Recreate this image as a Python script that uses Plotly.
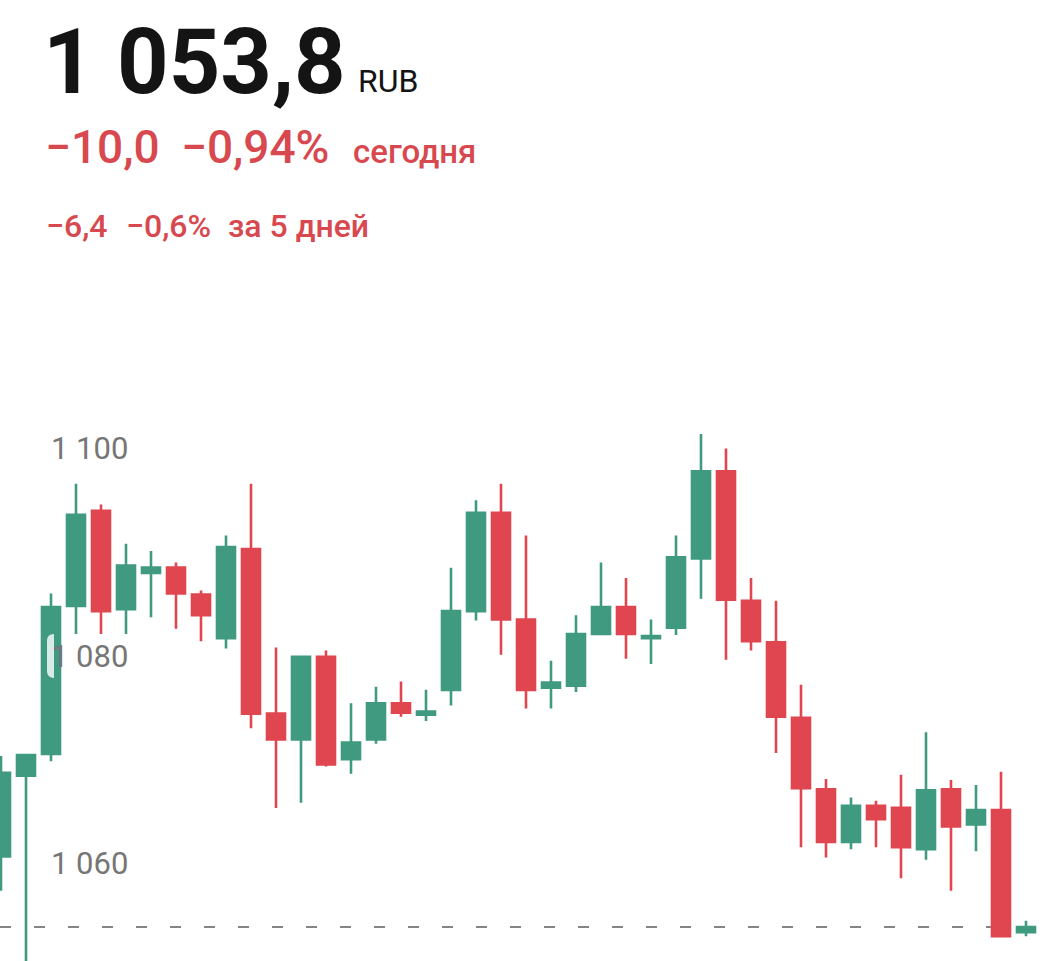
import plotly.graph_objects as go

# ---- data ----
idx = list(range(42))
open_ = [1060.6, 1068.4, 1070.5, 1084.8, 1094.0, 1084.5, 1088.0, 1088.5, 1085.9, 1081.7,
         1090.3, 1074.4, 1071.9, 1079.9, 1070.0, 1071.9, 1075.4, 1074.3, 1076.7, 1084.3,
         1093.8, 1083.5, 1076.9, 1077.1, 1082.1, 1084.7, 1081.7, 1082.7, 1089.4, 1097.8,
         1085.3, 1081.3, 1074.0, 1067.1, 1062.0, 1065.5, 1065.3, 1061.3, 1067.1, 1063.7,
         1065.1, 1053.3]
high = [1070.3, 1070.5, 1086.0, 1096.6, 1094.6, 1090.8, 1090.1, 1089.0, 1086.3, 1091.6,
        1096.6, 1080.8, 1080.0, 1080.5, 1075.4, 1077.0, 1077.5, 1076.7, 1088.5, 1095.0,
        1096.6, 1091.6, 1079.5, 1083.9, 1089.0, 1087.5, 1083.5, 1091.6, 1101.4, 1100.0,
        1087.5, 1085.3, 1077.2, 1068.1, 1066.3, 1066.0, 1068.5, 1072.6, 1068.0, 1067.5,
        1068.8, 1054.4]
low = [1057.3, 1049.2, 1069.8, 1082.1, 1082.1, 1082.1, 1083.7, 1082.6, 1081.4, 1080.7,
       1073.0, 1065.3, 1065.8, 1069.3, 1068.6, 1071.5, 1074.1, 1073.7, 1075.2, 1083.4,
       1080.1, 1074.9, 1074.9, 1076.5, 1082.0, 1079.7, 1079.2, 1082.0, 1085.5, 1079.6,
       1080.5, 1070.6, 1061.5, 1060.5, 1061.3, 1061.5, 1058.5, 1060.3, 1057.3, 1061.1,
       1052.9, 1052.9]
close = [1068.7, 1070.4, 1084.7, 1093.6, 1084.3, 1088.7, 1088.5, 1086.0, 1083.9, 1090.5,
         1074.4, 1071.9, 1079.9, 1069.5, 1071.6, 1075.4, 1074.5, 1074.6, 1084.3, 1093.8,
         1083.5, 1076.7, 1077.4, 1082.1, 1084.7, 1082.1, 1081.9, 1089.5, 1097.8, 1085.4,
         1081.4, 1074.1, 1067.2, 1062.0, 1065.5, 1064.2, 1061.5, 1067.0, 1063.5, 1065.1,
         1052.9, 1053.8]

tick_vals = [1060, 1080, 1100]
tick_text = ["1 060", "1 080", "1 100"]

last_price = 1053.8
price_text = "1 053,8"
currency = "RUB"
day_change = ["−10,0", "−0,94%", "сегодня"]
week_change = ["−6,4", "−0,6%", "за 5 дней"]

GREEN = "#409a80"
RED = "#e0464f"
TXT_RED = "#d8484f"

W, H = 1050, 961

fig = go.Figure()
fig.add_trace(go.Candlestick(
    x=idx, open=open_, high=high, low=low, close=close,
    increasing=dict(line=dict(color=GREEN, width=2.6), fillcolor=GREEN),
    decreasing=dict(line=dict(color=RED, width=2.6), fillcolor=RED),
    whiskerwidth=0, hoverinfo="skip", showlegend=False,
))

# dashed last-price line
fig.add_shape(type="line", xref="paper", x0=0, x1=1, yref="y", y0=last_price, y1=last_price,
              line=dict(color="#858585", width=2, dash="11px,23px"), layer="below")

def px(x):
    return x / W

def py(y):
    return 1 - y / H

# pale label backdrop over the candle near the 1 080 label (kept left of the text)
x0, x1, y0, y1, r = 47, 54, 634, 678, 7
path = (f"M {px(x0 + r)} {py(y0)} L {px(x1)} {py(y0)} L {px(x1)} {py(y1)} "
        f"L {px(x0 + r)} {py(y1)} Q {px(x0)} {py(y1)} {px(x0)} {py(y1 - r)} "
        f"L {px(x0)} {py(y0 + r)} Q {px(x0)} {py(y0)} {px(x0 + r)} {py(y0)} Z")
fig.add_shape(type="path", xref="paper", yref="paper", path=path,
              fillcolor="rgba(255,255,255,0.8)", line=dict(width=0), layer="above")

def ann(text, x, yc, size, color, weight):
    fig.add_annotation(text=text, xref="paper", yref="paper", x=px(x), y=py(yc),
                       xanchor="left", yanchor="middle", showarrow=False,
                       font=dict(family="Roboto", size=size, color=color, weight=weight))

ann(price_text, 41, 93 - 0.342 * 90, 90, "#141414", 700)
ann(currency, 356, 92 - 0.342 * 32, 32, "#141414", 400)
ann(day_change[0], 43, 163 - 0.342 * 46, 46, TXT_RED, 500)
ann(day_change[1], 179, 163 - 0.342 * 46, 46, TXT_RED, 500)
ann(day_change[2], 351, 163 - 0.342 * 33, 33, TXT_RED, 500)
ann(week_change[0], 44, 236.5 - 0.342 * 32, 32, TXT_RED, 500)
ann(week_change[1], 123.5, 236.5 - 0.342 * 32, 32, TXT_RED, 500)
ann(week_change[2], 225.5, 236.5 - 0.342 * 32, 32, TXT_RED, 500)

# pixel mapping: y_px = 448.6 + 10.354*(1100 - v)
ymax = 1100 + 448.6 / 10.354
ymin = 1100 - (H - 448.6) / 10.354

fig.update_layout(
    width=W, height=H, autosize=False,
    margin=dict(l=0, r=0, t=0, b=0),
    paper_bgcolor="white", plot_bgcolor="white",
    boxgap=0.28, boxgroupgap=0,
    hovermode=False,
    xaxis=dict(range=[-0.04, 41.96], showgrid=False, zeroline=False, showticklabels=False,
               ticks="", showline=False, rangeslider=dict(visible=False), fixedrange=True),
    yaxis=dict(range=[ymin, ymax], showgrid=False, zeroline=False, showline=False,
               tickvals=tick_vals, ticktext=tick_text, ticks="",
               ticklabelposition="inside", ticklabelstandoff=48,
               tickfont=dict(family="Roboto", size=31, color="#767676"), fixedrange=True),
)

fig.write_html("out.html")
